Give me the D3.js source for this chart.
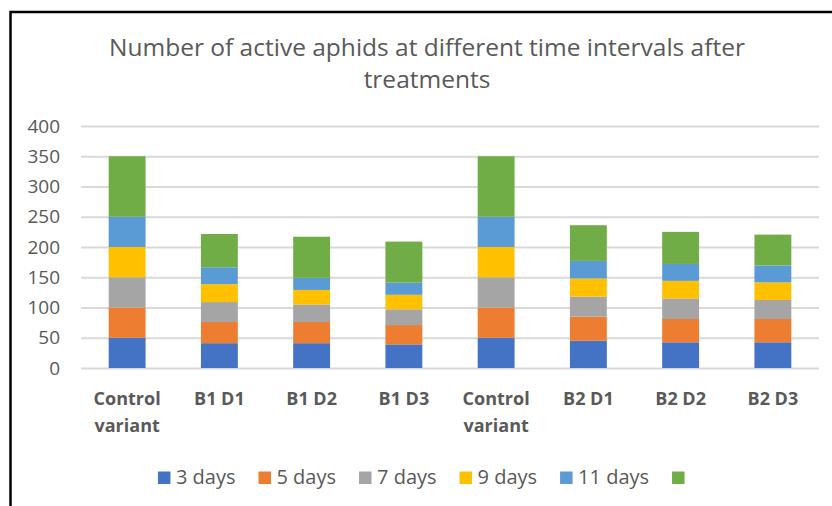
<!DOCTYPE html>
<html>
<head>
<meta charset="utf-8">
<script src="https://cdn.jsdelivr.net/npm/d3@7"></script>
<style>
  body { margin: 0; background: #fff; }
  svg { display: block; }
  text { font-family: "Open Sans", "Noto Sans", sans-serif; fill: #595959; }
</style>
</head>
<body>
<script>
// chart data
var categories = ["Control variant", "B1 D1", "B1 D2", "B1 D3", "Control variant", "B2 D1", "B2 D2", "B2 D3"];
var seriesNames = ["3 days", "5 days", "7 days", "9 days", "11 days", ""];
var days3  = [50, 41, 41, 39, 50, 45, 42.5, 42.5];
var days5  = [50, 35, 35, 32, 50, 40, 38.5, 38.5];
var days7  = [50, 33, 29, 26, 50, 33, 34, 31.5];
var days9  = [50, 29.5, 24, 24, 50, 30, 29, 29];
var days11 = [50, 28, 20, 20, 50, 29, 28, 28];
var days13 = [100, 55, 68, 68, 100, 59, 53, 51];
var yTicks = [0, 50, 100, 150, 200, 250, 300, 350, 400];
var colors = ["#4472C4", "#ED7D31", "#A5A5A5", "#FFC000", "#5B9BD5", "#70AD47"];

var svgWidth = 832;
var svgHeight = 506;

var margin = {top: 126, right: 13, bottom: 138, left: 81};
var chartWidth = svgWidth - margin.left - margin.right;
var chartHeight = svgHeight - margin.top - margin.bottom;

var svg = d3.select("body")
  .append("svg")
  .attr("width", svgWidth)
  .attr("height", svgHeight);

// outer frame (only top and left edges visible in the crop)
svg.append("path")
  .attr("d", "M10.5," + svgHeight + "V12H" + svgWidth)
  .attr("fill", "none")
  .attr("stroke", "#000")
  .attr("stroke-width", 2.5);

// title
var title = svg.append("text")
  .attr("text-anchor", "middle")
  .style("font-size", "24.5px");
title.append("tspan").attr("x", 427).attr("y", 56).text("Number of active aphids at different time intervals after");
title.append("tspan").attr("x", 427).attr("y", 88).text("treatments");

var chartGroup = svg.append("g")
  .attr("transform", `translate(${margin.left},${margin.top})`);

// build table for stacking
var allSeries = [days3, days5, days7, days9, days11, days13];
var table = categories.map(function(c, i) {
  var row = {idx: i};
  allSeries.forEach(function(s, k) { row["s" + k] = s[i]; });
  return row;
});
var keys = allSeries.map(function(s, k) { return "s" + k; });
var stacked = d3.stack().keys(keys)(table);

var xScale = d3.scaleBand()
  .domain(d3.range(categories.length))
  .range([0, chartWidth])
  .paddingInner(0.6)
  .paddingOuter(0.3);

var yScale = d3.scaleLinear()
  .domain([0, 400])
  .range([chartHeight, 0]);

// gridlines + y labels
var leftAxis = d3.axisLeft(yScale)
  .tickValues(yTicks)
  .tickSize(-chartWidth)
  .tickPadding(21);

var yAxisG = chartGroup.append("g").call(leftAxis);
yAxisG.select(".domain").remove();
yAxisG.selectAll(".tick line")
  .attr("stroke", "#d9d9d9")
  .attr("stroke-width", 2);
yAxisG.selectAll(".tick text")
  .attr("fill", "#595959")
  .style("font-size", "19px")
  .style("font-family", "'Open Sans', sans-serif");

// bars
chartGroup.selectAll(".layer")
  .data(stacked)
  .enter()
  .append("g")
  .attr("fill", function(d, i) { return colors[i]; })
  .selectAll("rect")
  .data(function(d) { return d; })
  .enter()
  .append("rect")
  .attr("x", function(d) { return xScale(d.data.idx); })
  .attr("y", function(d) { return yScale(d[1]); })
  .attr("height", function(d) { return yScale(d[0]) - yScale(d[1]); })
  .attr("width", xScale.bandwidth());

// category labels
var bottomAxis = d3.axisBottom(xScale).tickSize(0).tickFormat("");
var xAxisG = chartGroup.append("g")
  .attr("transform", `translate(0, ${chartHeight})`)
  .call(bottomAxis);
xAxisG.select(".domain").remove();

xAxisG.selectAll(".tick").each(function(i) {
  var words = categories[i].split(" ");
  var lines = categories[i].indexOf("Control") === 0 ? words : [categories[i]];
  var t = d3.select(this).append("text")
    .attr("text-anchor", "middle")
    .attr("fill", "#595959")
    .style("font-size", "18px")
    .style("font-weight", "bold")
    .style("font-family", "'Open Sans', sans-serif");
  lines.forEach(function(l, j) {
    t.append("tspan").attr("x", 0).attr("y", 37 + j * 27).text(l);
  });
});

// legend
var legend = svg.append("g");
var lx = 0;
seriesNames.forEach(function(name, i) {
  var item = legend.append("g").attr("transform", `translate(${lx},0)`);
  item.append("rect")
    .attr("x", 0).attr("y", -12.5)
    .attr("width", 12.5).attr("height", 12.5)
    .attr("fill", colors[i]);
  var txt = item.append("text")
    .attr("x", 18).attr("y", 0)
    .style("font-size", "20px")
    .text(name);
  var w = name ? txt.node().getComputedTextLength() : 0;
  lx += 12.5 + 5.5 + w + 23;
});
lx -= 23;
legend.attr("transform", `translate(${424 - lx / 2},484)`);
</script>
</body>
</html>
